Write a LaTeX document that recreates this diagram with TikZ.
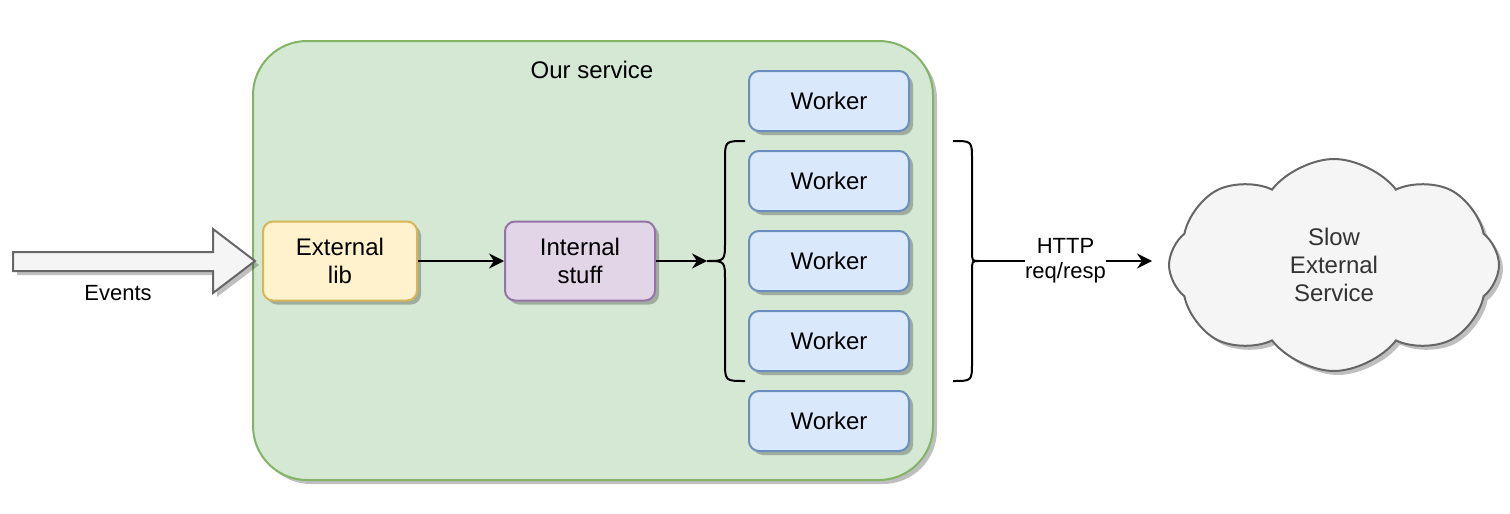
\documentclass[tikz,border=0pt]{standalone}
\usepackage{fontspec}
\setmainfont{Liberation Sans}
\usetikzlibrary{shapes.symbols,shadows,arrows.meta}
\definecolor{servicefill}{HTML}{D5E8D4}
\definecolor{servicedraw}{HTML}{82B366}
\definecolor{libfill}{HTML}{FFF2CC}
\definecolor{libdraw}{HTML}{D6B656}
\definecolor{internalfill}{HTML}{E1D5E7}
\definecolor{internaldraw}{HTML}{9673A6}
\definecolor{workerfill}{HTML}{DAE8FC}
\definecolor{workerdraw}{HTML}{6C8EBF}
\definecolor{greyfill}{HTML}{F5F5F5}
\definecolor{greydraw}{HTML}{666666}
\definecolor{greytext}{HTML}{333333}
\begin{document}
\begin{tikzpicture}[x=0.5pt,y=-0.5pt]
	\tikzstyle{shadowed} = [drop shadow={shadow xshift=2pt,shadow yshift=-2pt,fill=black,opacity=0.25}]
	\tikzstyle{box} = [rectangle,rounded corners=5pt,line width=1pt,shadowed,align=center,font=\fontsize{12}{14}\selectfont]
	\tikzstyle{worker} = [box,fill=workerfill,draw=workerdraw,minimum width=80pt,minimum height=30pt]
	\tikzstyle{flow} = [line width=1pt,-{Stealth[length=7.5pt,width=7.5pt,inset=2.5pt]}]
	\useasboundingbox (0,0) rectangle (1510,514);
	% service container
	\node[rectangle,rounded corners=27pt,line width=1pt,shadowed,fill=servicefill,draw=servicedraw,
		minimum width=340pt,minimum height=219.5pt] (service) at (593,260.5) {};
	\node[font=\fontsize{12}{14}\selectfont] (title) at (592,70) {Our service};
	% incoming events
	\draw[line width=1pt,draw=greydraw,fill=greyfill,shadowed]
		(13,252) -- (213,252) -- (213,229) -- (255,261) -- (213,293) -- (213,271) -- (13,271) -- cycle;
	\node[font=\fontsize{11}{13}\selectfont] (events) at (118,293) {Events};
	% pipeline
	\node[box,fill=libfill,draw=libdraw,minimum width=77pt,minimum height=39.5pt] (extlib) at (340,261) {External\\lib};
	\node[box,fill=internalfill,draw=internaldraw,minimum width=75pt,minimum height=39.5pt] (internal) at (580,261) {Internal\\stuff};
	% workers
	\foreach \i in {1,...,5}
		\node[worker] (worker\i) at (829, 21+\i*80) {Worker};
	% braces
	\coordinate (lbrace) at (707,261);
	\coordinate (rbrace) at (979,261);
	\draw[line width=1pt] (745,141) .. controls (725,141) and (725,141) .. (725,161) -- (725,241)
		.. controls (725,261) and (725,261) .. (lbrace) .. controls (725,261) and (725,261) .. (725,281)
		-- (725,361) .. controls (725,381) and (725,381) .. (745,381);
	\draw[line width=1pt] (953,141) .. controls (972,141) and (972,141) .. (972,160) -- (972,251)
		.. controls (972,261) and (972,261) .. (rbrace) .. controls (972,261) and (972,261) .. (972,271)
		-- (972,362) .. controls (972,381) and (972,381) .. (953,381);
	% slow service
	\node[cloud,cloud puffs=8,cloud puff arc=105,cloud ignores aspect,line width=1pt,shadowed,fill=greyfill,draw=greydraw,
		text=greytext,align=center,font=\fontsize{12}{14}\selectfont,
		minimum width=165pt,minimum height=106pt] (cloud) at (1334,265) {Slow\\External\\Service};
	\coordinate (cloudin) at (1152,261);
	% connections
	\draw[flow] (extlib) -- (internal);
	\draw[flow] (internal) -- (lbrace);
	\draw[flow] (rbrace) -- node[fill=white,inner sep=0pt,align=center,font=\fontsize{11}{12.5}\selectfont] (http) {HTTP\\req/resp} (cloudin);
\end{tikzpicture}
\end{document}
